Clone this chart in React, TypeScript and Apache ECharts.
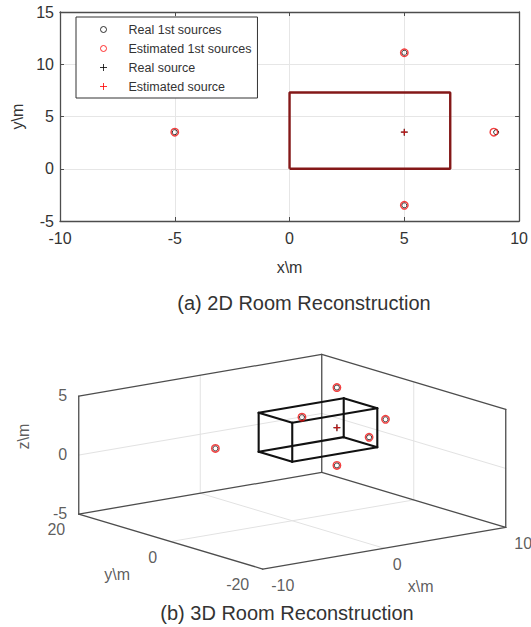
import React, { useEffect, useRef } from "react";
import * as echarts from "echarts";

const FONT = "'Liberation Sans', Arial, Helvetica, sans-serif";
const AXIS_COLOR = "#4d4d4d";
const TEXT_COLOR = "#333";

// ---------- (a) 2D data ----------
const roomX2d = [0, 7, 7, 0, 0];
const roomY2d = [0, 0, 7.3, 7.3, 0];
const realImages2d = [[5, 11.1], [-5, 3.5], [9, 3.5], [5, -3.5]];
const estImages2d = [[5, 11.1], [-5, 3.5], [8.9, 3.5], [5, -3.5]];
const realSource2d = [[5, 3.5]];
const estSource2d = [[5, 3.5]];

// ---------- (b) 3D data ----------
const xRange3d = [-10, 10];
const yRange3d = [-20, 20];
const zRange3d = [-5, 5];
const xTicks3d = [-10, 0, 10];
const yTicks3d = [-20, 0, 20];
const zTicks3d = [-5, 0, 5];
const roomSize3d = [7, 7.3, 3.3];
const realImages3d = [[-5, 3.5, 1.6], [9, 3.5, 1.6], [5, -3.5, 1.6], [5, 11.1, 1.6], [5, 3.5, -1.6], [5, 3.5, 5]];
const estImages3d = [[-5, 3.5, 1.6], [9, 3.5, 1.6], [5, -3.5, 1.6], [5, 11.1, 1.6], [5, 3.5, -1.6], [5, 3.5, 5]];
const realSource3d = [[5, 3.5, 1.6]];
const estSource3d = [[5, 3.5, 1.6]];

// orthographic view (MATLAB default az=-37.5, el=30) onto the page plane
const proj = (x: number, y: number, z: number) => [
  292.25 + 12.15 * x - 4.6 * y,
  461.75 - 2.08 * x - 1.375 * y - 11.8 * z,
];

const CIRCLE_ICON = "path://M0,0M40,14M17,7a3,3 0 1,0 6,0a3,3 0 1,0 -6,0";
const PLUS_ICON = "path://M0,0M40,14M16.5,7H23.5M20,3.5V10.5";
const PLUS_SYMBOL = "path://M0,5H10M5,0V10";

function buildSegments() {
  const [x0, x1] = xRange3d;
  const [y0, y1] = yRange3d;
  const [z0, z1] = zRange3d;
  const frame: number[][] = [
    [x0, y1, z1, x1, y1, z1],
    [x0, y1, z0, x1, y1, z0],
    [x0, y1, z0, x0, y1, z1],
    [x1, y1, z0, x1, y1, z1],
    [x1, y1, z1, x1, y0, z1],
    [x1, y1, z0, x1, y0, z0],
    [x1, y0, z0, x1, y0, z1],
    [x0, y1, z0, x0, y0, z0],
    [x0, y0, z0, x1, y0, z0],
  ];
  const grid: number[][] = [];
  xTicks3d.filter((t) => t > x0 && t < x1).forEach((t) => {
    grid.push([t, y1, z0, t, y1, z1]);
    grid.push([t, y0, z0, t, y1, z0]);
  });
  yTicks3d.filter((t) => t > y0 && t < y1).forEach((t) => {
    grid.push([x1, t, z0, x1, t, z1]);
    grid.push([x0, t, z0, x1, t, z0]);
  });
  zTicks3d.filter((t) => t > z0 && t < z1).forEach((t) => {
    grid.push([x0, y1, t, x1, y1, t]);
    grid.push([x1, y1, t, x1, y0, t]);
  });
  const [L, W, H] = roomSize3d;
  const room: number[][] = [];
  const xs = [0, L], ys = [0, W], zs = [0, H];
  ys.forEach((y) => zs.forEach((z) => room.push([0, y, z, L, y, z])));
  xs.forEach((x) => zs.forEach((z) => room.push([x, 0, z, x, W, z])));
  xs.forEach((x) => ys.forEach((y) => room.push([x, y, 0, x, y, H])));
  return { frame, grid, room };
}

const segRender = (color: string, width: number) => (_params: any, api: any) => {
  const a = api.coord(proj(api.value(0), api.value(1), api.value(2)));
  const b = api.coord(proj(api.value(3), api.value(4), api.value(5)));
  return {
    type: "line",
    shape: { x1: a[0], y1: a[1], x2: b[0], y2: b[1] },
    style: { stroke: color, lineWidth: width, lineCap: "round" },
  };
};

export default function App() {
  const ref = useRef<HTMLDivElement>(null);

  useEffect(() => {
    if (!ref.current) return;
    const chart = echarts.init(ref.current, undefined, { renderer: "svg" });
    const { frame, grid, room } = buildSegments();

    const tickLabel = (size = 16) => ({
      show: true,
      fontSize: size,
      color: TEXT_COLOR,
      fontFamily: FONT,
      formatter: "{b}",
    });

    const option: any = {
      animation: false,
      backgroundColor: "#fff",
      textStyle: { fontFamily: FONT },
      title: [
        {
          text: "(a) 2D Room Reconstruction",
          left: 304,
          top: 293,
          textAlign: "center",
          padding: 0,
          textStyle: { fontSize: 20, fontWeight: "normal", color: TEXT_COLOR, fontFamily: FONT },
        },
        {
          text: "(b) 3D Room Reconstruction",
          left: 287,
          top: 603,
          textAlign: "center",
          padding: 0,
          textStyle: { fontSize: 20, fontWeight: "normal", color: TEXT_COLOR, fontFamily: FONT },
        },
      ],
      legend: {
        left: 76,
        top: 17,
        orient: "vertical",
        padding: [5, 6, 4, 7],
        itemWidth: 40,
        itemHeight: 14,
        itemGap: 4,
        borderColor: "#333",
        borderWidth: 1,
        borderRadius: 0,
        backgroundColor: "#fff",
        selectedMode: false,
        textStyle: { fontSize: 12.5, color: TEXT_COLOR, fontFamily: FONT, lineHeight: 14 },
        data: [
          { name: "Real 1st sources", icon: CIRCLE_ICON, itemStyle: { color: "transparent", borderColor: "#000", borderWidth: 1 } },
          { name: "Estimated 1st sources", icon: CIRCLE_ICON, itemStyle: { color: "transparent", borderColor: "#ff0000", borderWidth: 1 } },
          { name: "Real source", icon: PLUS_ICON, itemStyle: { color: "transparent", borderColor: "#000", borderWidth: 1 } },
          { name: "Estimated source", icon: PLUS_ICON, itemStyle: { color: "transparent", borderColor: "#ff0000", borderWidth: 1 } },
        ],
      },
      grid: [
        { left: 60, top: 12, width: 460, height: 209 },
        { left: 0, top: 0, width: 531, height: 627 },
      ],
      xAxis: [
        {
          gridIndex: 0,
          type: "value",
          min: -10,
          max: 10,
          interval: 5,
          position: "bottom",
          axisLine: { onZero: false, lineStyle: { color: AXIS_COLOR, width: 1.3 } },
          axisTick: { inside: true, length: 4, lineStyle: { color: AXIS_COLOR } },
          axisLabel: { fontSize: 16, color: TEXT_COLOR, margin: 9, fontFamily: FONT },
          splitLine: { show: true, lineStyle: { color: "#e6e6e6", width: 1 } },
          name: "x\\m",
          nameLocation: "middle",
          nameGap: 38,
          nameTextStyle: { fontSize: 16, color: TEXT_COLOR, fontFamily: FONT },
        },
        {
          gridIndex: 0,
          type: "value",
          min: -10,
          max: 10,
          interval: 5,
          position: "top",
          axisLine: { onZero: false, lineStyle: { color: AXIS_COLOR, width: 1.3 } },
          axisTick: { inside: true, length: 4, lineStyle: { color: AXIS_COLOR } },
          axisLabel: { show: false },
          splitLine: { show: false },
        },
        { gridIndex: 1, type: "value", min: 0, max: 531, show: false },
      ],
      yAxis: [
        {
          gridIndex: 0,
          type: "value",
          min: -5,
          max: 15,
          interval: 5,
          position: "left",
          axisLine: { show: true, onZero: false, lineStyle: { color: AXIS_COLOR, width: 1.3 } },
          axisTick: { show: true, inside: true, length: 4, lineStyle: { color: AXIS_COLOR } },
          axisLabel: { fontSize: 16, color: TEXT_COLOR, margin: 6, fontFamily: FONT },
          splitLine: { show: true, lineStyle: { color: "#e6e6e6", width: 1 } },
          name: "y\\m",
          nameLocation: "middle",
          nameGap: 23,
          nameRotate: 90,
          nameTextStyle: { fontSize: 16, color: TEXT_COLOR, fontFamily: FONT },
        },
        {
          gridIndex: 0,
          type: "value",
          min: -5,
          max: 15,
          interval: 5,
          position: "right",
          axisLine: { show: true, onZero: false, lineStyle: { color: AXIS_COLOR, width: 1.3 } },
          axisTick: { show: true, inside: true, length: 4, lineStyle: { color: AXIS_COLOR } },
          axisLabel: { show: false },
          splitLine: { show: false },
        },
        { gridIndex: 1, type: "value", min: 0, max: 627, inverse: true, show: false },
      ],
      series: [
        // ----- (a) 2D -----
        {
          name: "Room",
          type: "line",
          xAxisIndex: 0,
          yAxisIndex: 0,
          data: roomX2d.map((x, i) => [x, roomY2d[i]]),
          symbol: "none",
          lineStyle: { color: "#841818", width: 2.4 },
          z: 3,
        },
        {
          name: "Real 1st sources",
          type: "scatter",
          xAxisIndex: 0,
          yAxisIndex: 0,
          symbol: "circle",
          symbolSize: 5,
          itemStyle: { color: "transparent", borderColor: "#000", borderWidth: 1 },
          data: realImages2d,
          z: 4,
        },
        {
          name: "Estimated 1st sources",
          type: "scatter",
          xAxisIndex: 0,
          yAxisIndex: 0,
          symbol: "circle",
          symbolSize: 7.5,
          itemStyle: { color: "transparent", borderColor: "#f01010", borderWidth: 1.4 },
          data: estImages2d,
          z: 5,
        },
        {
          name: "Real source",
          type: "scatter",
          xAxisIndex: 0,
          yAxisIndex: 0,
          symbol: PLUS_SYMBOL,
          symbolSize: 7,
          itemStyle: { color: "transparent", borderColor: "#000", borderWidth: 1.2 },
          data: realSource2d,
          z: 4,
        },
        {
          name: "Estimated source",
          type: "scatter",
          xAxisIndex: 0,
          yAxisIndex: 0,
          symbol: PLUS_SYMBOL,
          symbolSize: 6,
          itemStyle: { color: "transparent", borderColor: "#e01010", borderWidth: 1.2 },
          data: estSource2d,
          z: 5,
        },
        // ----- (b) 3D -----
        {
          type: "custom",
          xAxisIndex: 2,
          yAxisIndex: 2,
          clip: false,
          silent: true,
          renderItem: segRender("#e2e2e2", 1),
          data: grid,
          z: 1,
        },
        {
          type: "custom",
          xAxisIndex: 2,
          yAxisIndex: 2,
          clip: false,
          silent: true,
          renderItem: segRender("#4d4d4d", 1.3),
          data: frame,
          z: 2,
        },
        {
          type: "custom",
          xAxisIndex: 2,
          yAxisIndex: 2,
          clip: false,
          silent: true,
          renderItem: segRender("#111", 2.1),
          data: room,
          z: 3,
        },
        {
          name: "Real 1st sources",
          type: "scatter",
          xAxisIndex: 2,
          yAxisIndex: 2,
          symbol: "circle",
          symbolSize: 5,
          itemStyle: { color: "transparent", borderColor: "#000", borderWidth: 1 },
          data: realImages3d.map((p) => proj(p[0], p[1], p[2])),
          z: 4,
        },
        {
          name: "Estimated 1st sources",
          type: "scatter",
          xAxisIndex: 2,
          yAxisIndex: 2,
          symbol: "circle",
          symbolSize: 7.5,
          itemStyle: { color: "transparent", borderColor: "#f01010", borderWidth: 1.4 },
          data: estImages3d.map((p) => proj(p[0], p[1], p[2])),
          z: 5,
        },
        {
          name: "Real source",
          type: "scatter",
          xAxisIndex: 2,
          yAxisIndex: 2,
          symbol: PLUS_SYMBOL,
          symbolSize: 7,
          itemStyle: { color: "transparent", borderColor: "#000", borderWidth: 1.2 },
          data: realSource3d.map((p) => proj(p[0], p[1], p[2])),
          z: 4,
        },
        {
          name: "Estimated source",
          type: "scatter",
          xAxisIndex: 2,
          yAxisIndex: 2,
          symbol: PLUS_SYMBOL,
          symbolSize: 6,
          itemStyle: { color: "transparent", borderColor: "#e01010", borderWidth: 1.2 },
          data: estSource3d.map((p) => proj(p[0], p[1], p[2])),
          z: 5,
        },
        // 3D tick labels
        {
          type: "scatter",
          xAxisIndex: 2,
          yAxisIndex: 2,
          silent: true,
          symbolSize: 1,
          itemStyle: { color: "transparent" },
          label: { ...tickLabel(), position: [-11, 0], align: "right", verticalAlign: "middle" },
          data: zTicks3d.map((z) => ({ name: String(z), value: proj(xRange3d[0], yRange3d[1], z) })),
        },
        {
          type: "scatter",
          xAxisIndex: 2,
          yAxisIndex: 2,
          silent: true,
          symbolSize: 1,
          itemStyle: { color: "transparent" },
          label: { ...tickLabel(), position: [-13, 16], align: "right", verticalAlign: "middle" },
          data: yTicks3d.map((y) => ({ name: String(y), value: proj(xRange3d[0], y, zRange3d[0]) })),
        },
        {
          type: "scatter",
          xAxisIndex: 2,
          yAxisIndex: 2,
          silent: true,
          symbolSize: 1,
          itemStyle: { color: "transparent" },
          label: { ...tickLabel(), position: [9, 17], align: "left", verticalAlign: "middle" },
          data: xTicks3d.map((x) => ({ name: String(x), value: proj(x, yRange3d[0], zRange3d[0]) })),
        },
        // 3D axis names
        {
          type: "scatter",
          xAxisIndex: 2,
          yAxisIndex: 2,
          silent: true,
          symbolSize: 1,
          itemStyle: { color: "transparent" },
          label: { ...tickLabel(), position: [37, 39], align: "center", verticalAlign: "middle" },
          data: [{ name: "x\\m", value: proj(0, yRange3d[0], zRange3d[0]) }],
        },
        {
          type: "scatter",
          xAxisIndex: 2,
          yAxisIndex: 2,
          silent: true,
          symbolSize: 1,
          itemStyle: { color: "transparent" },
          label: { ...tickLabel(), position: [-53, 33], align: "center", verticalAlign: "middle" },
          data: [{ name: "y\\m", value: proj(xRange3d[0], 0, zRange3d[0]) }],
        },
        {
          type: "scatter",
          xAxisIndex: 2,
          yAxisIndex: 2,
          silent: true,
          symbolSize: 1,
          itemStyle: { color: "transparent" },
          label: { ...tickLabel(), position: [-55, -18], align: "center", verticalAlign: "middle", rotate: 90 },
          data: [{ name: "z\\m", value: proj(xRange3d[0], yRange3d[1], 0) }],
        },
      ],
    };

    chart.setOption(option);
    return () => chart.dispose();
  }, []);

  return (
    <div
      ref={ref}
      style={{ position: "absolute", left: 0, top: 0, width: 531, height: 627, background: "#fff" }}
    />
  );
}
